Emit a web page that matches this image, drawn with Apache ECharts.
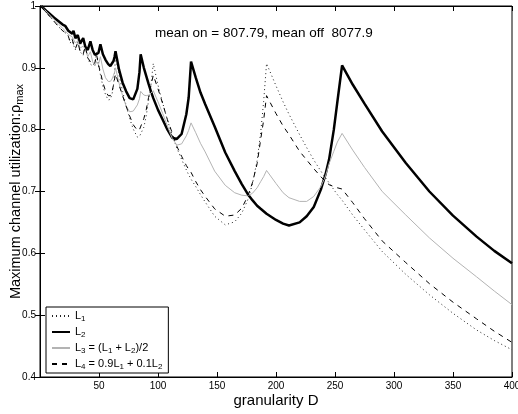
<!DOCTYPE html>
<html>
<head>
<meta charset="utf-8">
<script src="https://cdn.jsdelivr.net/npm/echarts@6/dist/echarts.min.js"></script>
<style>
  html, body { margin: 0; padding: 0; background: #fff; }
  #main { width: 518px; height: 414px; }
</style>
</head>
<body>
<div id="main"></div>
<script>
// granularity D (x values shared by all four curves)
var gran = [1, 6, 12, 16, 19.2, 21.3, 24, 25.6, 27.4, 28.4, 30, 32, 34, 36.6, 38.4, 40.5, 42.7, 44.6, 46.5, 48,
  49.5, 51.2, 53.3, 55.5, 57.8, 59.6, 61.1, 62.3, 63.2, 64,
  67, 70, 73, 76, 79, 82.5, 84.3, 85.3, 88, 90,
  92, 94, 96, 100, 104, 108, 112, 116, 120, 124,
  126, 128, 132, 136, 140, 148, 157, 165, 171, 176,
  180, 184, 187, 189.5, 192, 200, 206, 211, 220, 226,
  232, 238, 242, 245, 249, 252, 256, 265, 275, 290,
  310, 330, 350, 370, 385, 400];

// L1 (dotted)
var l1 = [1.0, 0.988, 0.975, 0.966, 0.960, 0.957, 0.952, 0.940, 0.947, 0.937, 0.929, 0.942, 0.926, 0.920, 0.938, 0.915, 0.906, 0.903, 0.908, 0.926,
  0.905, 0.889, 0.870, 0.857, 0.848, 0.849, 0.858, 0.872, 0.893, 0.918,
  0.888, 0.862, 0.839, 0.818, 0.801, 0.788, 0.789, 0.791, 0.804, 0.822,
  0.847, 0.872, 0.907, 0.872, 0.843, 0.815, 0.792, 0.770, 0.752, 0.735,
  0.727, 0.720, 0.708, 0.695, 0.683, 0.660, 0.646, 0.651, 0.665, 0.686,
  0.712, 0.750, 0.795, 0.845, 0.907, 0.871, 0.845, 0.825, 0.792, 0.771,
  0.751, 0.733, 0.722, 0.714, 0.703, 0.695, 0.686, 0.662, 0.638, 0.603,
  0.566, 0.533, 0.503, 0.476, 0.459, 0.444];

// L2 (thick)
var l2 = [1.0, 0.991, 0.981, 0.975, 0.970, 0.968, 0.960, 0.963, 0.955, 0.960, 0.948, 0.953, 0.939, 0.948, 0.934, 0.929, 0.943, 0.929, 0.921, 0.919,
  0.924, 0.938, 0.922, 0.913, 0.906, 0.903, 0.905, 0.911, 0.918, 0.927,
  0.897, 0.876, 0.862, 0.851, 0.849, 0.866, 0.893, 0.922, 0.900, 0.887,
  0.874, 0.862, 0.851, 0.832, 0.816, 0.800, 0.787, 0.785, 0.793, 0.825,
  0.852, 0.910, 0.884, 0.860, 0.841, 0.805, 0.763, 0.733, 0.712, 0.696,
  0.686, 0.677, 0.672, 0.668, 0.664, 0.654, 0.648, 0.645, 0.650, 0.660,
  0.675, 0.703, 0.728, 0.752, 0.800, 0.845, 0.904, 0.873, 0.842, 0.797,
  0.746, 0.700, 0.661, 0.627, 0.604, 0.584];

// L3 (grey)
var l3 = [1.0, 0.990, 0.978, 0.970, 0.964, 0.960, 0.954, 0.952, 0.950, 0.947, 0.940, 0.944, 0.932, 0.935, 0.930, 0.918, 0.926, 0.910, 0.903, 0.910,
  0.905, 0.918, 0.898, 0.884, 0.878, 0.878, 0.882, 0.888, 0.893, 0.900,
  0.875, 0.855, 0.838, 0.829, 0.830, 0.840, 0.850, 0.862, 0.856, 0.855,
  0.856, 0.859, 0.863, 0.845, 0.826, 0.806, 0.786, 0.775, 0.777, 0.790,
  0.799, 0.811, 0.795, 0.778, 0.764, 0.733, 0.710, 0.698, 0.694, 0.693,
  0.697, 0.706, 0.716, 0.724, 0.734, 0.713, 0.698, 0.690, 0.684, 0.684,
  0.692, 0.708, 0.725, 0.745, 0.765, 0.780, 0.794, 0.767, 0.739, 0.700,
  0.662, 0.625, 0.592, 0.562, 0.539, 0.517];

// L4 (dashed)
var l4 = [1.0, 0.988, 0.975, 0.966, 0.960, 0.957, 0.951, 0.942, 0.946, 0.938, 0.931, 0.941, 0.927, 0.922, 0.935, 0.916, 0.910, 0.905, 0.908, 0.921,
  0.905, 0.893, 0.876, 0.863, 0.855, 0.855, 0.862, 0.872, 0.882, 0.890,
  0.872, 0.855, 0.838, 0.822, 0.808, 0.799, 0.800, 0.803, 0.818, 0.832,
  0.852, 0.871, 0.888, 0.866, 0.842, 0.816, 0.795, 0.773, 0.757, 0.742,
  0.736, 0.731, 0.716, 0.703, 0.692, 0.672, 0.660, 0.662, 0.673, 0.692,
  0.714, 0.745, 0.784, 0.815, 0.855, 0.826, 0.806, 0.792, 0.765, 0.751,
  0.737, 0.724, 0.716, 0.711, 0.708, 0.706, 0.704, 0.682, 0.656, 0.620,
  0.585, 0.551, 0.521, 0.494, 0.474, 0.456];

var legendText = {
  L1: '{n|L}{s|1}',
  L2: '{n|L}{s|2}',
  L3: '{n|L}{s|3}{n| = (L}{s|1}{n| + L}{s|2}{n|)/2}',
  L4: '{n|L}{s|4}{n| = 0.9L}{s|1}{n| + 0.1L}{s|2}'
};

var font = 'Liberation Sans, Arial, sans-serif';

function pairs(ys) {
  return gran.map(function (g, i) { return [g, ys[i]]; });
}

var chart = echarts.init(document.getElementById('main'));

var axisCommon = {
  axisLine: { show: true, lineStyle: { color: '#000', width: 1 } },
  axisTick: { show: true, inside: true, length: 5, lineStyle: { color: '#000' } },
  splitLine: { show: false }
};

chart.setOption({
  animation: false,
  backgroundColor: '#fff',
  textStyle: { fontFamily: font },
  grid: { left: 40, right: 6, top: 6, bottom: 37, containLabel: false, outerBoundsMode: 'none',
    show: true, borderColor: '#000', borderWidth: 1 },
  xAxis: [
    Object.assign({
      type: 'value', min: 0, max: 400, interval: 50, position: 'bottom',
      name: 'granularity D', nameLocation: 'middle', nameGap: 16, nameMoveOverlap: false,
      nameTextStyle: { fontSize: 15, color: '#000', fontFamily: font },
      axisLabel: { color: '#000', fontSize: 10, margin: 4, fontFamily: font,
        formatter: function (v) { return v === 0 ? '' : v; } }
    }, axisCommon),
    Object.assign({
      type: 'value', min: 0, max: 400, interval: 50, position: 'top',
      axisLabel: { show: false }
    }, axisCommon)
  ],
  yAxis: [
    Object.assign({
      type: 'value', min: 0.4, max: 1, interval: 0.1, position: 'left',
      name: '{a|Maximum channel utilization:ρ}{b|max}', nameLocation: 'middle', nameGap: 16,
      nameMoveOverlap: false,
      nameTextStyle: { color: '#000', fontFamily: font,
        rich: {
          a: { fontSize: 14.5, color: '#000', fontFamily: font, lineHeight: 16 },
          b: { fontSize: 11, color: '#000', fontFamily: font, lineHeight: 11, padding: [8, 0, 0, 0] }
        } },
      axisLabel: { color: '#000', fontSize: 10, margin: 4, fontFamily: font }
    }, axisCommon),
    Object.assign({
      type: 'value', min: 0.4, max: 1, interval: 0.1, position: 'right',
      axisLabel: { show: false }
    }, axisCommon)
  ],
  legend: {
    orient: 'vertical', left: 46, top: 307,
    data: ['L1', 'L2', 'L3', 'L4'],
    itemWidth: 18, itemHeight: 8, itemGap: 2,
    padding: [2, 6, 2, 5],
    borderColor: '#000', borderWidth: 1, borderRadius: 0, backgroundColor: '#fff',
    itemStyle: { opacity: 0 },
    formatter: function (name) { return legendText[name]; },
    textStyle: {
      color: '#000', fontSize: 11, fontFamily: font,
      rich: {
        n: { fontSize: 11, color: '#000', fontFamily: font, lineHeight: 12 },
        s: { fontSize: 8, color: '#000', fontFamily: font, lineHeight: 8, padding: [6, 0, 0, 0] }
      }
    }
  },
  graphic: [{
    type: 'text', left: 155, top: 26,
    style: { text: 'mean on = 807.79, mean off  8077.9', font: '13.5px Liberation Sans', fill: '#000' }
  }],
  series: [
    { name: 'L1', type: 'line', symbol: 'none', data: pairs(l1),
      lineStyle: { color: '#222', width: 1, type: [1, 3] }, itemStyle: { color: '#222' } },
    { name: 'L2', type: 'line', symbol: 'none', data: pairs(l2),
      lineStyle: { color: '#000', width: 2.5 }, itemStyle: { color: '#000' } },
    { name: 'L3', type: 'line', symbol: 'none', data: pairs(l3),
      lineStyle: { color: '#b3b3b3', width: 1 }, itemStyle: { color: '#b3b3b3' } },
    { name: 'L4', type: 'line', symbol: 'none', data: pairs(l4),
      lineStyle: { color: '#000', width: 1, type: [5, 5] }, itemStyle: { color: '#000' } }
  ]
});
</script>
</body>
</html>
